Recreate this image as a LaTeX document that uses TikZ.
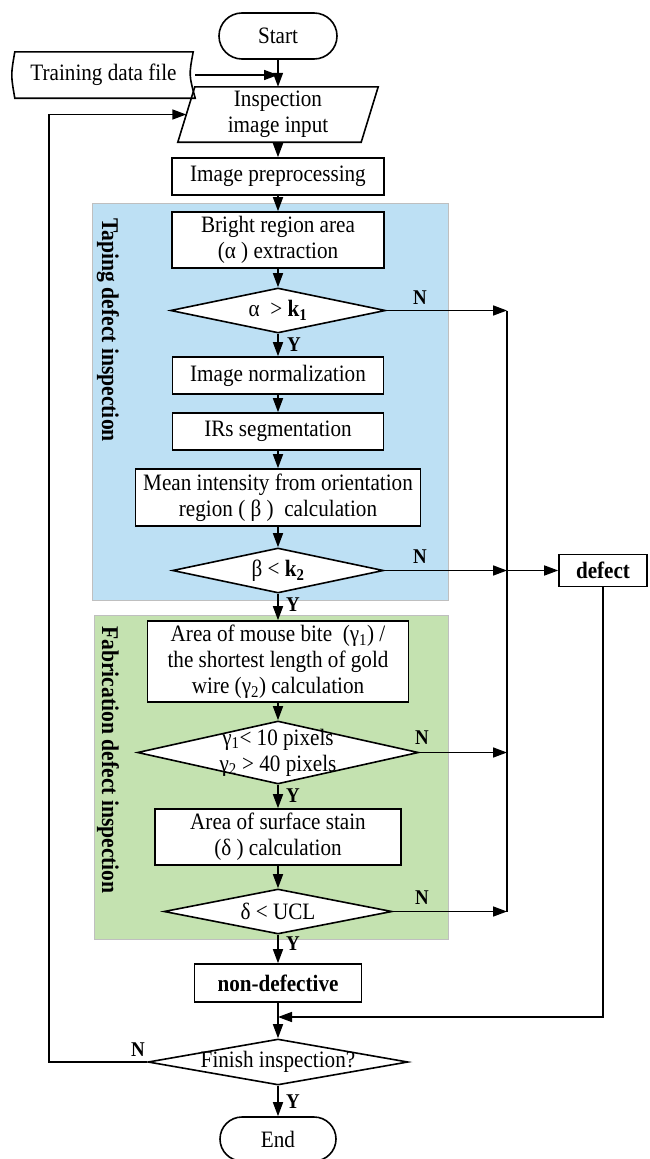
\documentclass[tikz,border=0pt]{standalone}
\usepackage{fontspec}
\setmainfont[FakeStretch=0.9]{Liberation Serif}
\usetikzlibrary{shapes.geometric,shapes.misc,arrows.meta}
\definecolor{blueR}{RGB}{189,224,244}
\definecolor{greenR}{RGB}{196,226,176}
\newcommand{\mfs}{\fontsize{23.5}{26}\selectfont}
\begin{document}
\begin{tikzpicture}[x=1pt,y=-1pt,font=\mfs,
  ln/.style={line width=1.6pt},
  arr/.style={line width=1.6pt,-{Triangle[length=14pt,width=10pt]}},
  box/.style={draw,line width=1.6pt,fill=white,inner sep=1pt,align=center},
  term/.style={draw,line width=1.6pt,fill=white,shape=rounded rectangle,inner sep=1pt,minimum width=120pt,minimum height=46pt},
  dec/.style={draw,line width=1.6pt,fill=white,shape=diamond,inner sep=0pt},
  dtxt/.style={align=center,inner sep=0pt},
  yn/.style={font=\fontsize{21}{21}\selectfont\bfseries,inner sep=0pt},
  reg/.style={font=\fontsize{24}{24}\selectfont\bfseries,rotate=-90,inner sep=0pt}]
\useasboundingbox (0,0) rectangle (649,1159);
% regions
\draw[fill=blueR,draw=black!25,line width=0.8pt] (92,203) rectangle (448,600);
\draw[fill=greenR,draw=black!25,line width=0.8pt] (94,615) rectangle (448,939);
\node[reg] (tl) at (108,330) {Taping defect inspection};
\node[reg] (fl) at (108,760) {Fabrication defect inspection};
% nodes
\node[term] (start) at (278,36) {Start};
\node[inner sep=0pt,minimum width=183pt,minimum height=46pt] (tdf) at (103.5,75) {Training data file};
\draw[ln] ([xshift=3pt]tdf.north west) -- ([xshift=-2pt]tdf.north east)
  .. controls ([xshift=-6.3pt]tdf.east) .. (tdf.south east)
  -- ([xshift=3pt]tdf.south west)
  .. controls ([xshift=-1pt]tdf.west) .. ([xshift=3pt]tdf.north west) -- cycle;
\node[inner sep=0pt,minimum width=183pt,minimum height=55pt,align=center] (inp) at (278,114.5) {Inspection\\image input};
\draw[ln] ([xshift=8.5pt]inp.north west) -- ([xshift=8.5pt]inp.north east)
  -- ([xshift=-8.5pt]inp.south east) -- ([xshift=-8.5pt]inp.south west) -- cycle;
\node[box,minimum width=212pt,minimum height=37pt] (pre) at (278,176.5) {Image preprocessing};
\node[box,minimum width=212pt,minimum height=56pt] (bri) at (278,240) {Bright region area\\(α ) extraction};
\node[dec,minimum width=215pt,minimum height=45pt] (d1) at (278,310.5) {};
\node[dtxt] (d1t) at (d1) {α\ \ > \textbf{k}\textsubscript{\textbf{1}}};
\node[box,minimum width=211pt,minimum height=37pt] (nrm) at (278,375.5) {Image normalization};
\node[box,minimum width=211pt,minimum height=37pt] (irs) at (278,431.5) {IRs segmentation};
\node[box,minimum width=285pt,minimum height=57pt] (mean) at (278,497.5) {Mean intensity from orientation\\region ( β )\ \ calculation};
\node[dec,minimum width=211pt,minimum height=45pt] (d2) at (278,570.5) {};
\node[dtxt] (d2t) at (d2) {β < \textbf{k\textsubscript{2}}};
\node[box,minimum width=261pt,minimum height=81pt] (mou) at (278,661.5) {Area of mouse bite\ \ (γ\textsubscript{1}) /\\the shortest length of gold\\wire (γ\textsubscript{2}) calculation};
\node[dec,minimum width=281pt,minimum height=63pt] (d3) at (278,752.5) {};
\node[dtxt] (d3t) at (d3) {γ\textsubscript{1}< 10 pixels\\γ\textsubscript{2} > 40 pixels};
\node[box,minimum width=246pt,minimum height=56pt] (stn) at (278,837) {Area of surface stain\\(δ ) calculation};
\node[dec,minimum width=228pt,minimum height=45pt] (d4) at (278,911.5) {};
\node[dtxt] (d4t) at (d4) {δ < UCL};
\node[box,minimum width=167pt,minimum height=38pt] (nd) at (278,983) {\bfseries non-defective};
\node[dec,minimum width=260pt,minimum height=46pt] (fin) at (278,1062) {};
\node[dtxt] (fint) at (fin) {Finish inspection?};
\node[term,minimum width=118pt,minimum height=44pt] (end) at (278,1139) {End};
\node[box,minimum width=88pt,minimum height=32pt] (def) at (603,570.5) {\bfseries defect};
% labels
\node[yn] (n1) at (420,298) {N}; \node[yn] (y1) at (294,345) {Y};
\node[yn] (n2) at (420,557) {N}; \node[yn] (y2) at (293,605) {Y};
\node[yn] (n3) at (422,738) {N}; \node[yn] (y3) at (293,796) {Y};
\node[yn] (n4) at (422,898) {N}; \node[yn] (y4) at (293,944) {Y};
\node[yn] (n5) at (138,1050) {N}; \node[yn] (y5) at (293,1102) {Y};
% coordinates
\coordinate (col) at (507,0);
\coordinate (lp) at (49,0);
\coordinate (mrg) at (278,1017);
% connectors
\draw[arr] (start.south) -- (inp.north);
\draw[arr] (tdf.east) -- (tdf.east -| start.south);
\draw[arr] (inp) -- (pre);
\draw[arr] (pre) -- (bri);
\draw[arr] (bri) -- (d1);
\draw[arr] (d1) -- (nrm);
\draw[arr] (nrm) -- (irs);
\draw[arr] (irs) -- (mean);
\draw[arr] (mean) -- (d2);
\draw[arr] (d2) -- (mou);
\draw[arr] (mou) -- (d3);
\draw[arr] (d3) -- (stn);
\draw[arr] (stn) -- (d4);
\draw[arr] (d4) -- (nd);
\draw[arr] (nd) -- (fin);
\draw[arr] (fin) -- (end);
\draw[arr] (d1.east) -- (d1.east -| col);
\draw[ln] (d1.east -| col) -- (d4.east -| col);
\draw[arr] (d2.east) -- (d2.east -| col);
\draw[arr] (d2.east -| col) -- (def.west);
\draw[arr] (d3.east) -- (d3.east -| col);
\draw[arr] (d4.east) -- (d4.east -| col);
\draw[arr] (def.south) |- (mrg);
\draw[arr] (fin.west) -- (fin.west -| lp) |- (inp.west);
\end{tikzpicture}
\end{document}
